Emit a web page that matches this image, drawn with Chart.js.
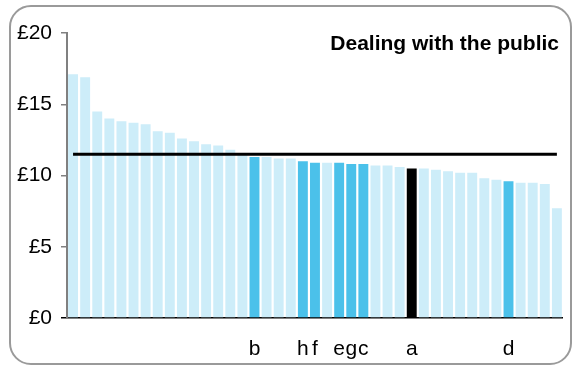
<!DOCTYPE html>
<html>
<head>
<meta charset="utf-8">
<script src="https://cdn.jsdelivr.net/npm/chart.js@4/dist/chart.umd.min.js"></script>
<style>
  body { margin: 0; background: #fff; }
  #wrap { position: relative; width: 576px; height: 369px; }
  #frame {
    position: absolute; left: 9px; top: 5px; width: 563px; height: 360px;
    border: 2px solid #9a9a9a; border-radius: 22px; box-sizing: border-box;
  }
  canvas { position: absolute; left: 0; top: 0; }
</style>
</head>
<body>
<div id="wrap">
  <div id="frame"></div>
  <canvas id="chart" width="576" height="369"></canvas>
</div>
<script>
const title = "Dealing with the public";

// one entry per bar, only the marked ones carry a letter
const categories = [
  "", "", "", "", "", "", "", "", "", "",
  "", "", "", "", "", "b", "", "", "", "h",
  "f", "", "e", "g", "c", "", "", "", "a", "",
  "", "", "", "", "", "", "d", "", "", "",
  ""
];

const values = [
  17.1, 16.9, 14.5, 14.0, 13.8, 13.7, 13.6, 13.1, 13.0, 12.6,
  12.4, 12.2, 12.1, 11.8, 11.5, 11.3, 11.3, 11.2, 11.2, 11.0,
  10.9, 10.9, 10.9, 10.8, 10.8, 10.7, 10.7, 10.6, 10.5, 10.5,
  10.4, 10.3, 10.2, 10.2, 9.8, 9.7, 9.6, 9.5, 9.5, 9.4,
  7.7
];

const highlighted = ["b", "h", "f", "e", "g", "c", "d"];
const reference = "a";
const average = 11.5;

const yTicks = [0, 5, 10, 15, 20];

const FONT = "'Liberation Sans', Arial, sans-serif";

const barColors = categories.map(c => {
  if (c === reference) return "#000000";
  if (highlighted.includes(c)) return "#4bc1ea";
  return "#cdedf9";
});

const titlePlugin = {
  id: "cornerTitle",
  afterDraw(chart) {
    const ctx = chart.ctx;
    ctx.save();
    ctx.font = "bold 21px " + FONT;
    ctx.fillStyle = "#000";
    ctx.textAlign = "right";
    ctx.textBaseline = "alphabetic";
    ctx.fillText(title, 559, 50);
    ctx.restore();
  }
};

new Chart(document.getElementById("chart"), {
  type: "bar",
  data: {
    labels: categories,
    datasets: [
      {
        type: "line",
        data: categories.map(() => average),
        borderColor: "#000",
        borderWidth: 3,
        pointRadius: 0,
        fill: false,
        order: 0
      },
      {
        data: values,
        backgroundColor: barColors,
        barPercentage: 0.82,
        categoryPercentage: 1,
        order: 1
      }
    ]
  },
  options: {
    responsive: false,
    animation: false,
    layout: { padding: { top: 33, right: 9, bottom: 0, left: 0 } },
    plugins: {
      legend: { display: false },
      tooltip: { enabled: false }
    },
    scales: {
      x: {
        grid: { display: false, drawTicks: false },
        border: { color: "#000", width: 1.5 },
        ticks: {
          autoSkip: false,
          maxRotation: 0,
          padding: 19,
          color: "#000",
          font: { family: FONT, size: 21 }
        },
        afterFit: s => { s.height = 51; }
      },
      y: {
        min: 0,
        max: 20,
        afterBuildTicks: s => { s.ticks = yTicks.map(v => ({ value: v })); },
        grid: {
          drawOnChartArea: false,
          tickLength: 6,
          lineWidth: 1.5,
          color: ctx => ctx.tick && ctx.tick.value === 0 ? "#000" : "#808080"
        },
        border: { color: "#808080", width: 2 },
        ticks: {
          padding: 9,
          color: "#000",
          font: { family: FONT, size: 21 },
          callback: v => "£" + v
        },
        afterFit: s => { s.width = 67; }
      }
    }
  },
  plugins: [titlePlugin]
});
</script>
</body>
</html>
